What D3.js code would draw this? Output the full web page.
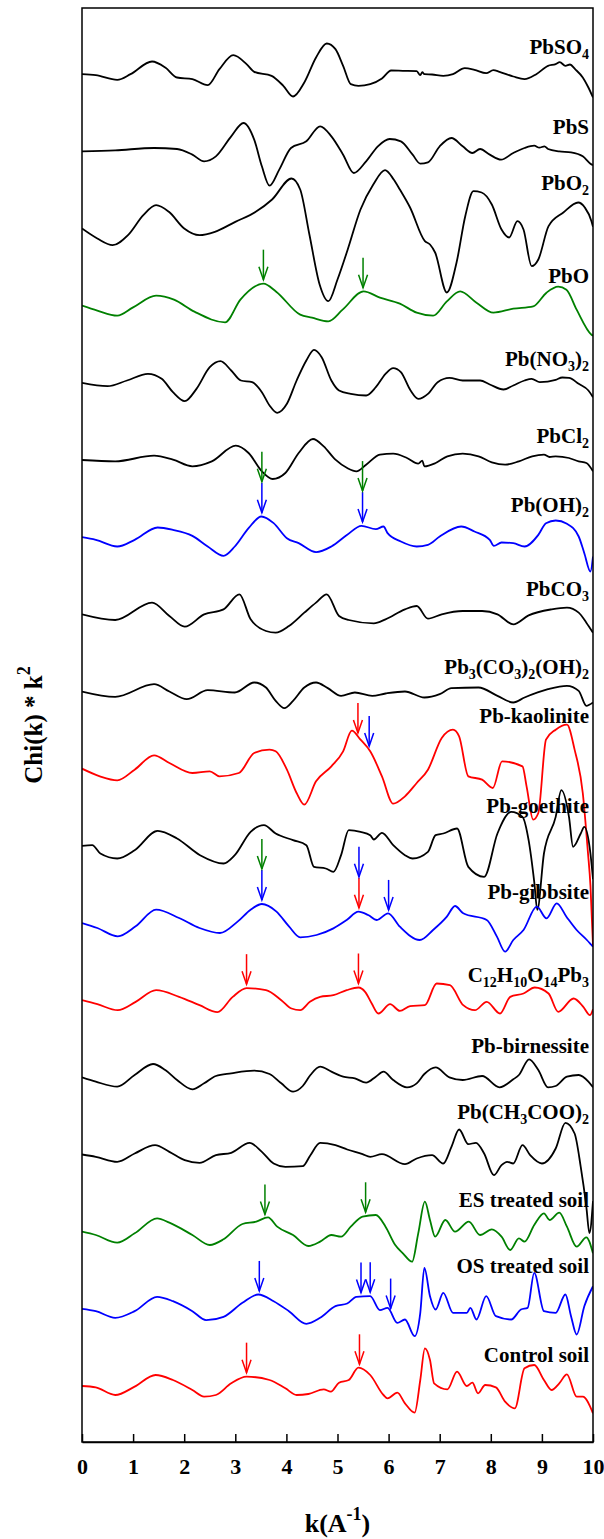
<!doctype html>
<meta charset="utf-8" />
<style>
  body { margin: 0; background: #fff; }
  text { font-family: "Liberation Serif", "Times New Roman", serif; font-weight: bold; }
</style>
<svg></svg>

<script src="https://cdn.jsdelivr.net/npm/d3@7"></script>

<script>
    // spectra as [k, chi*k^2] pairs, listed top to bottom
    var pbso4 = [[0,0],[0.27,-0.3],[0.69,-1.7],[0.95,0],[1.37,3.8],[1.63,2.0],[1.86,-1.0],[2.16,-1.5],[2.46,-3.3],[2.69,1.5],[2.96,5.7],[3.22,3.0],[3.37,0.7],[3.71,-0.5],[3.94,-3.5],[4.13,-6.7],[4.35,-2.5],[4.58,5.0],[4.79,9.2],[4.96,7.5],[5.11,2.5],[5.26,-3.0],[5.41,-3.5],[5.64,-3.0],[5.87,-1.3],[6.05,1.1],[6.28,1.0],[6.55,0.9],[6.62,-0.3],[6.66,0.6],[6.70,0],[6.85,-0.1],[7.07,-0.5],[7.26,0],[7.49,1.8],[7.68,1.3],[7.91,0.3],[8.05,1.2],[8.17,0.7],[8.44,-0.7],[8.66,-1.5],[8.89,0],[9.12,2.5],[9.27,3.0],[9.35,3.6],[9.46,2.5],[9.55,2.9],[9.65,1.5],[9.80,-1.0],[9.91,-4.0],[10,-7.0]];
    var pbs = [[0,0],[0.65,0.3],[1.41,1.0],[1.86,0.7],[2.16,-1.0],[2.39,-3.0],[2.62,-1.5],[2.92,4.5],[3.16,8.5],[3.37,3.5],[3.52,-4.5],[3.67,-10.3],[3.86,-5.5],[4.09,1.0],[4.39,3.0],[4.66,7.5],[4.88,4.5],[5.11,-1.0],[5.32,-6.5],[5.56,-3.0],[5.79,1.5],[6.02,3.7],[6.24,3.0],[6.47,-1.0],[6.62,-3.7],[6.77,-3.3],[7.0,1.5],[7.23,4.0],[7.45,1.5],[7.64,-0.5],[7.79,0.7],[7.98,-1.0],[8.20,-2.5],[8.44,-0.5],[8.66,1.0],[8.85,1.7],[8.95,1.1],[9.05,1.5],[9.12,0.7],[9.34,0],[9.57,-0.3],[9.80,-1.5],[9.95,-3.7],[10,-4.2]];
    var pbo2 = [[0,0],[0.3,-3],[0.6,-5],[0.9,-2],[1.2,4],[1.45,7],[1.7,5],[2.0,0],[2.3,-2],[2.6,-1],[3.0,2],[3.4,5],[3.72,8.7],[4.1,15],[4.27,11.7],[4.45,-1.8],[4.65,-16.8],[4.82,-21.8],[5.0,-15.3],[5.2,-6.3],[5.45,5.7],[5.7,13.2],[5.93,17.5],[6.1,14.7],[6.22,11.7],[6.42,6.3],[6.71,-3.8],[6.81,-4.8],[6.91,-7.2],[7.14,-19.2],[7.33,-10.2],[7.5,3.7],[7.66,11.2],[7.82,10.8],[8.02,7.2],[8.21,-0.3],[8.36,-2.7],[8.52,2.2],[8.64,-0.3],[8.80,-11.3],[8.93,-9.3],[9.13,0.7],[9.42,4.8],[9.71,7.8],[9.84,6.3],[9.97,2.2],[10,0.5]];
    var pbo = [[0,0],[0.3,-1.5],[0.69,-3],[1.0,-0.5],[1.45,3],[1.8,1.8],[2.2,-1.8],[2.8,-5],[3.1,1.8],[3.55,6.6],[3.8,4.2],[4.27,-2.7],[4.5,-3.6],[4.82,-4.7],[5.1,-1.2],[5.51,4.3],[5.83,2.4],[6.22,0.6],[6.55,-2.1],[6.87,-3],[7.14,1.3],[7.40,4.3],[7.72,0.9],[8.05,-2.1],[8.44,-0.9],[8.83,-0.2],[9.09,3.9],[9.32,5.7],[9.48,4.8],[9.68,-1.2],[9.97,-8.7],[10,-9]];
    var pbno32 = [[0,0],[0.5,-1.0],[0.88,0.7],[1.29,2.7],[1.56,1.2],[1.78,-2.8],[2.01,-5.5],[2.24,-1.8],[2.5,4.7],[2.71,6.5],[2.92,3.7],[3.11,0.7],[3.33,0.2],[3.52,-2.8],[3.67,-6.8],[3.82,-9.0],[4.01,-6.3],[4.2,0.7],[4.39,6.7],[4.54,9.9],[4.69,7.7],[4.88,0.7],[5.03,-2.3],[5.26,-3.3],[5.56,-3.8],[5.75,-1.3],[5.94,2.7],[6.09,4.4],[6.24,3.2],[6.43,-2.3],[6.58,-4.8],[6.77,-3.3],[6.96,0.2],[7.19,1.5],[7.45,0.7],[7.79,0.7],[7.98,-0.5],[8.25,-2.0],[8.44,-0.8],[8.66,0.7],[8.80,1.2],[8.96,0.2],[9.27,0.9],[9.40,1.6],[9.53,1.5],[9.72,-0.3],[9.91,-2.3],[10,-4.3]];
    var pbcl2 = [[0,0],[0.65,-0.4],[1.41,1.3],[1.78,0.1],[2.16,-1.9],[2.54,-0.4],[3.01,4.3],[3.26,2.1],[3.52,-3.4],[3.73,-5.7],[3.98,-3.9],[4.24,2.1],[4.52,6.3],[4.73,4.1],[4.96,0.1],[5.19,-2.4],[5.37,-3.4],[5.56,-1.4],[5.83,1.6],[6.09,1.9],[6.36,0.6],[6.58,-1.1],[6.66,-0.2],[6.70,-1.9],[6.92,-0.9],[7.15,1.1],[7.45,1.9],[7.76,1.1],[8.02,-0.7],[8.28,-1.4],[8.55,-0.4],[8.81,1.1],[9.04,1.6],[9.15,0.9],[9.27,1.1],[9.53,0.6],[9.72,-0.4],[9.87,-0.9],[10,-3.4]];
    var pboh2 = [[0,0],[0.27,-0.8],[0.69,-2.8],[1.03,-0.8],[1.48,2.9],[1.78,2.2],[2.16,0.4],[2.46,-2.8],[2.77,-5.6],[2.99,-2.8],[3.26,2.7],[3.51,6.2],[3.75,4.2],[4.01,-0.3],[4.24,-1.8],[4.58,-4.5],[4.88,-2.8],[5.19,0.7],[5.47,3.4],[5.75,2.4],[5.90,3.2],[5.98,1.2],[6.24,-1.3],[6.55,-2.8],[6.77,-2.3],[7.0,0.2],[7.42,3.2],[7.68,1.7],[7.98,-0.8],[8.06,-2.6],[8.21,-1.6],[8.44,-1.8],[8.66,-2.8],[8.93,0.7],[9.08,4.2],[9.27,5.0],[9.49,4.0],[9.72,0.2],[9.83,-4.8],[9.95,-10.3],[10,-5.8]];
    var pbco3 = [[0,0],[0.65,-1.7],[1.37,3.5],[1.71,-0.5],[2.01,-3.7],[2.39,0],[2.77,1.5],[3.08,6.0],[3.30,-1.5],[3.60,-5.0],[3.79,-5.5],[4.05,-3.5],[4.35,0.5],[4.58,3.5],[4.79,6.0],[5.03,-0.5],[5.22,-1.7],[5.71,-2.7],[5.94,-1.5],[6.32,1.5],[6.55,2.5],[6.77,-1.3],[7.04,0],[7.45,1.0],[7.83,1.0],[8.13,0],[8.44,-3.0],[8.74,-0.3],[9.19,1.5],[9.49,2.0],[9.72,0.5],[9.87,-2.5],[10,-5.5]];
    var pb3co3oh = [[0,0],[0.65,-1.6],[1.41,2.2],[1.71,0],[2.05,-2.3],[2.46,0.4],[2.99,-0.3],[3.37,2.7],[3.60,1.2],[3.79,-2.8],[3.96,-5.0],[4.13,-2.8],[4.35,1.2],[4.58,2.7],[4.81,1.0],[5.07,-1.3],[5.34,-0.3],[5.68,-1.3],[5.94,-0.6],[6.32,0],[6.70,-1.8],[7.0,-0.8],[7.23,1.0],[7.76,1.2],[8.13,-1.3],[8.44,-3.3],[8.66,-1.8],[9.12,0.7],[9.49,1.7],[9.72,0.2],[9.87,-4.3],[10,-3.3]];
    var kaolinite = [[0,0],[0.35,-2.3],[0.69,-3.5],[1.03,-0.3],[1.41,4.0],[1.71,1.7],[2.16,-1.3],[2.50,-0.8],[2.69,-2.3],[3.07,-1.3],[3.37,4.7],[3.67,5.7],[3.79,5.2],[4.01,-0.3],[4.20,-7.3],[4.35,-10.8],[4.58,-3.8],[4.88,0.7],[5.11,5.2],[5.28,11.4],[5.45,8.7],[5.64,5.2],[5.87,-2.3],[6.09,-10.5],[6.32,-8.3],[6.55,-4.3],[6.77,-0.3],[7.04,9.2],[7.26,11.7],[7.38,9.7],[7.56,-2.3],[7.83,-3.3],[8.04,-5.8],[8.22,2.2],[8.62,0.7],[8.70,-5.3],[8.83,-15.3],[8.93,-13.3],[9.08,8.7],[9.27,11.7],[9.49,13.2],[9.64,5.7],[9.80,-7.3],[9.90,-25],[9.95,-35],[10,-53]];
    var goethite = [[0,0],[0.2,0.2],[0.36,-2.3],[0.69,-3.8],[1.03,-1.3],[1.48,4.5],[1.86,2.2],[2.31,-2.8],[2.77,-5.3],[2.99,-2.8],[3.30,4.2],[3.56,6.2],[3.79,3.7],[4.13,1.7],[4.39,0.2],[4.54,-6.3],[4.77,-6.8],[4.92,-7.8],[5.07,-2.8],[5.22,4.7],[5.45,4.2],[5.64,3.2],[5.71,1.9],[5.87,3.9],[6.09,0.2],[6.32,-2.8],[6.47,-3.8],[6.77,-1.8],[6.92,3.2],[7.07,3.7],[7.34,5.2],[7.56,-6.3],[7.87,-9.3],[8.13,3.7],[8.40,10.2],[8.62,8.7],[8.74,1.7],[8.85,-10.8],[8.91,-19.2],[9.04,-2.3],[9.27,8.7],[9.38,16.7],[9.53,8.7],[9.61,-0.3],[9.76,3.7],[9.83,5.7],[9.95,-2.3],[10,-10]];
    var gibbsite = [[0,0],[0.3,-1.5],[0.7,-4],[1.05,-1],[1.45,4],[1.9,1.5],[2.3,-1.5],[2.7,-3],[3.05,0.5],[3.3,4],[3.52,5.7],[3.8,3.5],[4.05,-1],[4.27,-4.3],[4.59,-3.6],[4.92,-1.6],[5.18,0.9],[5.41,3.4],[5.60,2.4],[5.77,0.9],[5.99,2.9],[6.22,-1.1],[6.61,-5.1],[6.87,-2.1],[7.14,1.9],[7.30,5.1],[7.46,2.9],[7.92,0.9],[8.12,-4.1],[8.28,-8.6],[8.44,-5.1],[8.64,-2.1],[8.90,4.9],[9.09,1.4],[9.29,5.9],[9.48,1.9],[9.68,-2.1],[9.88,-5.1],[9.97,-6.6],[10,-7.1]];
    var c12 = [[0,0],[0.3,-1.2],[0.7,-3],[1.05,-0.5],[1.45,3],[1.9,1],[2.3,-1.5],[2.65,-3.6],[2.95,1],[3.22,3.6],[3.6,3],[3.9,0],[4.1,-2.5],[4.27,-3],[4.46,-0.5],[4.66,1],[4.92,1.5],[5.18,3],[5.41,3.8],[5.54,2.5],[5.67,-1],[5.80,-4],[6.03,-1.2],[6.22,-3.2],[6.42,-1.8],[6.71,-1.5],[6.94,5],[7.20,4.5],[7.46,-1.5],[7.69,-3],[7.92,-0.5],[8.18,-4],[8.38,1],[8.64,2],[8.86,3.8],[9.13,2],[9.32,-3.5],[9.62,0.5],[9.81,-2],[9.94,-4.5],[10,-2.7]];
    var birnessite = [[0,0],[0.27,-1.3],[0.69,-2.8],[1.03,0.7],[1.39,4.0],[1.63,2.2],[1.86,-0.8],[2.16,-3.6],[2.39,-1.8],[2.62,0.4],[2.92,1.2],[3.37,2.0],[3.67,1.0],[3.90,-1.8],[4.13,-4.3],[4.32,-2.6],[4.47,0.7],[4.66,3.2],[4.88,1.7],[5.11,0.2],[5.34,-0.3],[5.56,-1.6],[5.75,0.2],[5.90,1.7],[6.09,-0.8],[6.36,-3.0],[6.55,-1.8],[6.70,1.0],[6.92,3.0],[7.19,0],[7.45,-0.8],[7.83,0.4],[8.17,-3.0],[8.44,-0.6],[8.55,0.7],[8.75,5.4],[8.93,2.2],[9.12,-3.0],[9.27,-2.6],[9.49,0.2],[9.72,0.7],[9.91,-1.3],[10,-3.0]];
    var acetate = [[0,0],[0.27,-0.7],[0.69,-2.2],[1.03,0.3],[1.43,2.8],[1.71,0.8],[2.01,-1.7],[2.30,-2.5],[2.62,-0.2],[2.92,0.5],[3.28,3.5],[3.52,0.8],[3.75,-2.7],[3.98,-3.7],[4.32,-3.5],[4.47,-0.2],[4.66,3.5],[4.96,2.8],[5.19,1.5],[5.49,0.1],[5.64,-0.7],[5.87,0.1],[6.32,-2.9],[6.55,-1.2],[6.85,-0.2],[7.07,-2.7],[7.23,2.3],[7.38,7.5],[7.56,3.1],[7.71,3.5],[7.87,0.3],[8.06,-6.2],[8.21,-3.2],[8.32,-2.2],[8.44,-2.7],[8.62,2.8],[8.77,-0.2],[9.0,-2.7],[9.27,1.8],[9.46,9.5],[9.64,6.3],[9.76,-3.7],[9.87,-15.7],[9.93,-23.6],[10,-14]];
    var esSoil = [[0,0],[0.27,-1.0],[0.69,-3.3],[1.03,-0.5],[1.47,4.0],[1.71,2.7],[2.16,-1.0],[2.50,-4.0],[2.77,-2.3],[3.14,2.3],[3.41,3.0],[3.64,4.3],[3.82,1.5],[4.13,-1.0],[4.43,-4.3],[4.66,-3.0],[4.88,-1.0],[5.07,-1.5],[5.26,1.5],[5.49,4.5],[5.75,5.0],[5.94,1.5],[6.13,-4.0],[6.28,-6.5],[6.46,-9.0],[6.58,-0.5],[6.71,9.0],[6.81,3.5],[6.91,-1.5],[7.11,3.5],[7.30,0],[7.57,3.0],[7.79,-1.0],[8.02,0.7],[8.21,-1.5],[8.38,-5.5],[8.55,-2.0],[8.66,-3.0],[8.85,2.0],[9.04,5.5],[9.15,3.5],[9.34,5.7],[9.49,1.5],[9.68,-4.5],[9.87,-1.7],[10,-6.5]];
    var osSoil = [[0,0],[0.27,-0.7],[0.65,-2.7],[1.03,-0.7],[1.47,3.6],[1.78,2.3],[2.16,-0.7],[2.43,-3.4],[2.77,-2.4],[3.14,1.8],[3.45,4.3],[3.75,2.3],[4.05,-0.7],[4.39,-4.5],[4.66,-2.7],[4.96,0.8],[5.19,1.6],[5.37,3.6],[5.64,3.8],[5.83,-0.4],[5.98,0.3],[6.17,-4.2],[6.32,-3.2],[6.51,-8.2],[6.62,-1.2],[6.70,12.3],[6.81,3.8],[6.92,-0.2],[7.07,4.8],[7.26,-1.2],[7.53,-1.2],[7.60,0.3],[7.72,-3.2],[7.91,3.8],[8.10,-2.2],[8.40,-3.2],[8.59,-0.2],[8.72,0.3],[8.85,10.8],[9.04,-0.7],[9.27,-1.2],[9.46,4.3],[9.57,-2.2],[9.68,-7.7],[9.83,0.8],[10,6.8]];
    var controlSoil = [[0,0],[0.27,-0.4],[0.65,-2.7],[1.03,-0.2],[1.44,3.3],[1.78,1.8],[2.16,-1.2],[2.39,-3.2],[2.62,-2.7],[2.92,0.8],[3.22,2.8],[3.67,1.8],[3.98,-0.7],[4.20,-2.7],[4.43,-2.4],[4.73,-1.0],[4.87,-1.7],[5.03,1.0],[5.22,1.8],[5.41,5.5],[5.64,3.3],[5.90,-2.7],[5.98,-3.7],[6.17,-2.0],[6.32,-5.2],[6.51,-8.0],[6.62,1.8],[6.71,11.3],[6.81,7.8],[6.89,0.8],[7.15,-1.0],[7.34,4.3],[7.53,0],[7.64,1.0],[7.75,-2.2],[7.89,0.3],[8.10,-0.4],[8.28,-4.7],[8.47,-6.7],[8.66,5.3],[8.85,6.3],[9.04,1.8],[9.19,-1.2],[9.34,0.8],[9.49,3.5],[9.68,-3.2],[9.80,-3.2],[10,-8.2]];

    var names = ['PbSO_4', 'PbS', 'PbO_2', 'PbO', 'Pb(NO_3)_2', 'PbCl_2', 'Pb(OH)_2', 'PbCO_3',
        'Pb_3(CO_3)_2(OH)_2', 'Pb-kaolinite', 'Pb-goethite', 'Pb-gibbsite', 'C_12H_10O_14Pb_3',
        'Pb-birnessite', 'Pb(CH_3COO)_2', 'ES treated soil', 'OS treated soil', 'Control soil'];
    var spectra = [pbso4, pbs, pbo2, pbo, pbno32, pbcl2, pboh2, pbco3, pb3co3oh, kaolinite,
        goethite, gibbsite, c12, birnessite, acetate, esSoil, osSoil, controlSoil];
    var colors = ['#000', '#000', '#000', '#008000', '#000', '#000', '#0000ff', '#000', '#000', '#ff0000',
        '#000', '#0000ff', '#ff0000', '#000', '#000', '#008000', '#0000ff', '#ff0000'];
    // how far each label sits above its own trace (px)
    var labelLift = [20, 17, 39, 23, 17, 17, 25, 18, 18, 46, 33, 24, 18, 24, 36, 25, 36, 24];

    var kTicks = [0, 1, 2, 3, 4, 5, 6, 7, 8, 9, 10];

    // arrows: trace index, k, colour, stack level
    var arrows = [
        [3, 3.55, '#008000', 0], [3, 5.50, '#008000', 0],
        [6, 3.52, '#0000ff', 0], [6, 3.52, '#008000', 1], [6, 5.49, '#0000ff', 0], [6, 5.49, '#008000', 1],
        [9, 5.40, '#ff0000', 0], [9, 5.62, '#0000ff', 0],
        [11, 3.52, '#0000ff', 0], [11, 3.52, '#008000', 1], [11, 5.42, '#ff0000', 0], [11, 5.42, '#0000ff', 1], [11, 6.00, '#0000ff', 0],
        [12, 3.22, '#ff0000', 0], [12, 5.41, '#ff0000', 0],
        [15, 3.58, '#008000', 0], [15, 5.55, '#008000', 0],
        [16, 3.47, '#0000ff', 0], [16, 5.46, '#0000ff', 0], [16, 5.64, '#0000ff', 0], [16, 6.04, '#0000ff', 0],
        [17, 3.22, '#ff0000', 0], [17, 5.43, '#ff0000', 0]
    ];

    var W = 604, H = 1539;
    var plotL = 82, plotR = 593, plotT = 8, plotB = 1442;
    var step = 23.15, base = 16.8;

    var svg = d3.select('svg')
        .attr('width', W)
        .attr('height', H)

    var x = d3.scaleLinear().domain([0, 10]).range([plotL, plotR]);
    var y = d3.scaleLinear().domain([0, 430.2]).range([plotB, plotT]);

    function offsetOf(i) { return base + step * (spectra.length - 1 - i); }

    function valueAt(data, k) {
        for (var j = 1; j < data.length; j++) {
            if (data[j][0] >= k) {
                var a = data[j - 1], b = data[j];
                return a[1] + (b[1] - a[1]) * (k - a[0]) / (b[0] - a[0]);
            }
        }
        return data[data.length - 1][1];
    }

    svg.append('clipPath').attr('id', 'plot')
        .append('rect').attr('x', plotL).attr('y', plotT).attr('width', plotR - plotL).attr('height', plotB - plotT);

    var g = svg.append('g').attr('clip-path', 'url(#plot)');

    spectra.forEach(function (data, i) {
        var off = offsetOf(i);
        var line = d3.line()
            .x(function (d) { return x(d[0]); })
            .y(function (d) { return y(d[1] + off); })
            .curve(d3.curveMonotoneX);
        g.append('path')
            .attr('d', line(data))
            .style('fill', 'none')
            .style('stroke', colors[i])
            .style('stroke-width', 1.8)
            .style('stroke-linejoin', 'round')
    });

    // arrows
    var alen = 30, gap = 4;
    arrows.forEach(function (a) {
        var data = spectra[a[0]];
        var px = x(a[1]);
        var tip = y(valueAt(data, a[1]) + offsetOf(a[0])) - gap - a[3] * (alen + 1);
        var grp = svg.append('g').style('stroke', a[2]).style('stroke-width', 1.5).style('fill', 'none');
        grp.append('line').attr('x1', px).attr('x2', px).attr('y1', tip - alen).attr('y2', tip);
        grp.append('path').attr('d', 'M' + (px - 4.5) + ',' + (tip - 13) + 'L' + px + ',' + tip + 'L' + (px + 4.5) + ',' + (tip - 13));
    });

    // labels with subscripts
    names.forEach(function (name, i) {
        var ty = y(offsetOf(i)) - labelLift[i];
        var t = svg.append('text')
            .attr('x', 589)
            .attr('y', ty)
            .attr('text-anchor', 'end')
            .style('font-size', '21px')
            .style('fill', '#000');
        var parts = name.split(/_(\d+)/);
        var shift = 0;
        parts.forEach(function (p, j) {
            if (p === '') return;
            if (j % 2 === 1) {
                t.append('tspan').attr('dy', 5 - shift).style('font-size', '14px').text(p);
                shift = 5;
            } else {
                t.append('tspan').attr('dy', -shift).text(p);
                shift = 0;
            }
        });
    });

    // frame and axis
    svg.append('rect')
        .attr('x', plotL).attr('y', plotT).attr('width', plotR - plotL).attr('height', plotB - plotT)
        .style('fill', 'none').style('stroke', '#000').style('stroke-width', 1.5);

    var axis = d3.axisBottom(x).tickValues(kTicks).tickSize(-8).tickSizeOuter(0).tickPadding(16)
        .tickFormat(d3.format('d'));
    var ax = svg.append('g').attr('transform', 'translate(0,' + plotB + ')').call(axis);
    ax.selectAll('line').style('stroke', '#000').style('stroke-width', 1.5);
    ax.select('.domain').style('stroke', '#000').style('stroke-width', 1.5);
    ax.selectAll('text')
        .style('font-family', '"Liberation Serif", "Times New Roman", serif')
        .style('font-weight', 'bold')
        .style('font-size', '22px')
        .style('fill', '#000');

    var xt = svg.append('text')
        .attr('x', (plotL + plotR) / 2)
        .attr('y', 1532)
        .attr('text-anchor', 'middle')
        .style('font-size', '26px');
    xt.append('tspan').text('k(A');
    xt.append('tspan').attr('dy', -12).style('font-size', '18px').text('-1');
    xt.append('tspan').attr('dy', 12).text(')');

    var yt = svg.append('text')
        .attr('transform', 'translate(42,' + 725 + ') rotate(-90)')
        .attr('text-anchor', 'middle')
        .style('font-size', '25px');
    yt.append('tspan').text('Chi(k) * k');
    yt.append('tspan').attr('dy', -12).style('font-size', '18px').text('2');
</script>
